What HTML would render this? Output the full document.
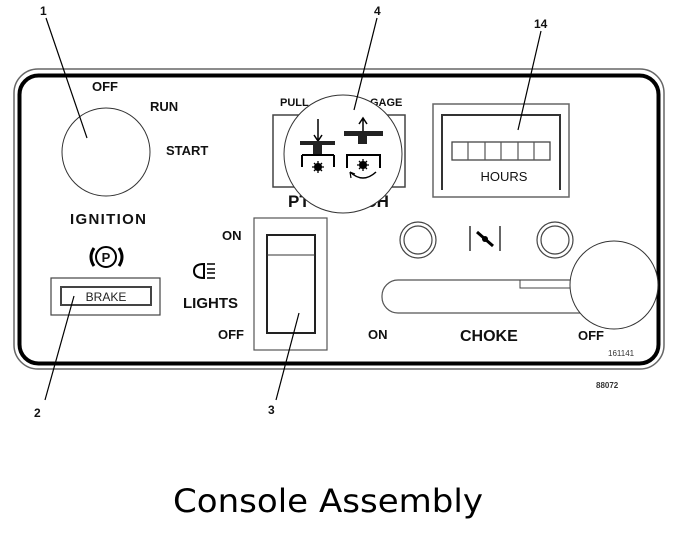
<!DOCTYPE html>
<html><head><meta charset="utf-8"><style>
html,body{margin:0;padding:0;background:#fff;width:680px;height:554px;overflow:hidden}
svg{display:block}
.b{font-family:"Liberation Sans",sans-serif;font-weight:bold;fill:#111}
</style></head><body>
<svg width="680" height="554" viewBox="0 0 680 554" xmlns="http://www.w3.org/2000/svg">
<!-- console border -->
<rect x="14" y="69" width="650" height="300" rx="24" fill="none" stroke="#666" stroke-width="1.5"/>
<rect x="19.5" y="75.5" width="639" height="288" rx="19" fill="none" stroke="#000" stroke-width="4"/>

<!-- ignition -->
<circle cx="106" cy="152" r="44" fill="none" stroke="#333" stroke-width="1"/>
<text class="b" x="92" y="91" font-size="13">OFF</text>
<text class="b" x="150" y="111" font-size="13">RUN</text>
<text class="b" x="166" y="155" font-size="13">START</text>
<text class="b" x="70" y="224" font-size="15" textLength="76">IGNITION</text>
<!-- P brake icon -->
<circle cx="106" cy="257" r="10" fill="none" stroke="#000" stroke-width="2"/>
<text class="b" x="106" y="262" font-size="13" text-anchor="middle">P</text>
<path d="M94 248 Q88 257 94 266 M119 248 Q125 257 119 266" fill="none" stroke="#000" stroke-width="3"/>
<rect x="51" y="278" width="109" height="37" fill="none" stroke="#444" stroke-width="1.2"/>
<rect x="61" y="287" width="90" height="18" fill="none" stroke="#444" stroke-width="2"/>
<text x="106" y="301" font-size="12" text-anchor="middle" font-family="Liberation Sans,sans-serif" fill="#222">BRAKE</text>

<!-- lights -->
<text class="b" x="222" y="240" font-size="13">ON</text>
<path d="M204 264 Q194 264 194 271 Q194 278 204 278 Z" fill="none" stroke="#000" stroke-width="2"/>
<path d="M207 264h8M207 269h8M207 273h8M207 278h8" stroke="#000" stroke-width="1.5"/>
<text class="b" x="183" y="308" font-size="15">LIGHTS</text>
<text class="b" x="218" y="339" font-size="13">OFF</text>
<rect x="254" y="218" width="73" height="132" fill="none" stroke="#555" stroke-width="1.2"/>
<rect x="267" y="235" width="48" height="98" fill="none" stroke="#222" stroke-width="2"/>
<line x1="267" y1="255" x2="315" y2="255" stroke="#333" stroke-width="1"/>

<!-- PTO -->
<rect x="273" y="115" width="132" height="72" fill="none" stroke="#444" stroke-width="1.5"/>
<text class="b" x="280" y="106" font-size="11">PULL</text>
<text class="b" x="370" y="106" font-size="11">GAGE</text>
<text class="b" x="288" y="207" font-size="17">PT</text>
<text class="b" x="354" y="207" font-size="17">TCH</text>
<circle cx="343" cy="154" r="59" fill="#fff" stroke="#333" stroke-width="1"/>
<!-- left icon -->
<path d="M318 119v22M314 135l4 6 4-6" fill="none" stroke="#000" stroke-width="1.5"/>
<rect x="300" y="141" width="35" height="4" fill="#222"/>
<rect x="313" y="145" width="9" height="9" fill="#222"/>
<path d="M302 155v12M334 155v12M302 155h32" fill="none" stroke="#000" stroke-width="2"/>
<circle cx="318" cy="167" r="4" fill="#000"/>
<path d="M312 167h12M318 161v12M314 163l8 8M322 163l-8 8" stroke="#000" stroke-width="1.3"/>
<!-- right icon -->
<path d="M363 138v-20M359 124l4-6 4 6" fill="none" stroke="#000" stroke-width="1.5"/>
<rect x="344" y="131" width="39" height="5" fill="#222"/>
<rect x="358" y="136" width="9" height="8" fill="#222"/>
<path d="M347 168v-13h33v13" fill="none" stroke="#000" stroke-width="2"/>
<circle cx="363" cy="165" r="4" fill="#000"/>
<path d="M357 165h12M363 159v12M359 161l8 8M367 161l-8 8" stroke="#000" stroke-width="1.3"/>
<path d="M350 172 Q363 184 376 172" fill="none" stroke="#000" stroke-width="1.5"/>
<path d="M350 172l1 6M350 172l5 2" stroke="#000" stroke-width="1.2"/>

<!-- hours -->
<rect x="433" y="104" width="136" height="93" fill="none" stroke="#666" stroke-width="1.5"/>
<path d="M442 190V115h118v75" fill="none" stroke="#333" stroke-width="2"/>
<rect x="452" y="142" width="98" height="18" fill="none" stroke="#444" stroke-width="1.3"/>
<path d="M468 142v18M485 142v18M501 142v18M518 142v18M534 142v18" stroke="#555" stroke-width="1.2"/>
<text x="504" y="181" font-size="13" text-anchor="middle" font-family="Liberation Sans,sans-serif" fill="#111">HOURS</text>

<!-- choke -->
<circle cx="418" cy="240" r="18" fill="none" stroke="#444" stroke-width="1.2"/>
<circle cx="418" cy="240" r="14" fill="none" stroke="#444" stroke-width="1.2"/>
<circle cx="555" cy="240" r="18" fill="none" stroke="#444" stroke-width="1.2"/>
<circle cx="555" cy="240" r="14" fill="none" stroke="#444" stroke-width="1.2"/>
<path d="M470 226v25M500 226v25" stroke="#333" stroke-width="1.5"/>
<path d="M477 232l16 14" stroke="#000" stroke-width="3"/>
<circle cx="485" cy="239" r="3" fill="#000"/>
<rect x="382" y="280" width="215" height="33" rx="16" fill="none" stroke="#555" stroke-width="1.2"/>
<path d="M520 280v8h80" fill="none" stroke="#444" stroke-width="1"/>
<circle cx="614" cy="285" r="44" fill="#fff" stroke="#333" stroke-width="1"/>
<text class="b" x="368" y="339" font-size="13">ON</text>
<text class="b" x="460" y="341" font-size="16">CHOKE</text>
<text class="b" x="578" y="340" font-size="13">OFF</text>
<text x="608" y="356" font-size="8" font-family="Liberation Sans,sans-serif" fill="#333">161141</text>
<text x="596" y="388" font-size="8" font-family="Liberation Sans,sans-serif" font-weight="bold" fill="#333">88072</text>

<!-- callouts -->
<g class="b" font-size="12">
<text x="40" y="15">1</text>
<text x="374" y="15">4</text>
<text x="534" y="28">14</text>
<text x="34" y="417">2</text>
<text x="268" y="414">3</text>
</g>
<g stroke="#000" stroke-width="1.2">
<line x1="46" y1="18" x2="87" y2="138"/>
<line x1="377" y1="18" x2="354" y2="110"/>
<line x1="541" y1="31" x2="518" y2="130"/>
<line x1="45" y1="400" x2="74" y2="296"/>
<line x1="276" y1="400" x2="299" y2="313"/>
</g>

<text x="173" y="512" font-size="32" font-family="DejaVu Sans,sans-serif" fill="#000" textLength="310" lengthAdjust="spacingAndGlyphs">Console Assembly</text>
</svg>
</body></html>
